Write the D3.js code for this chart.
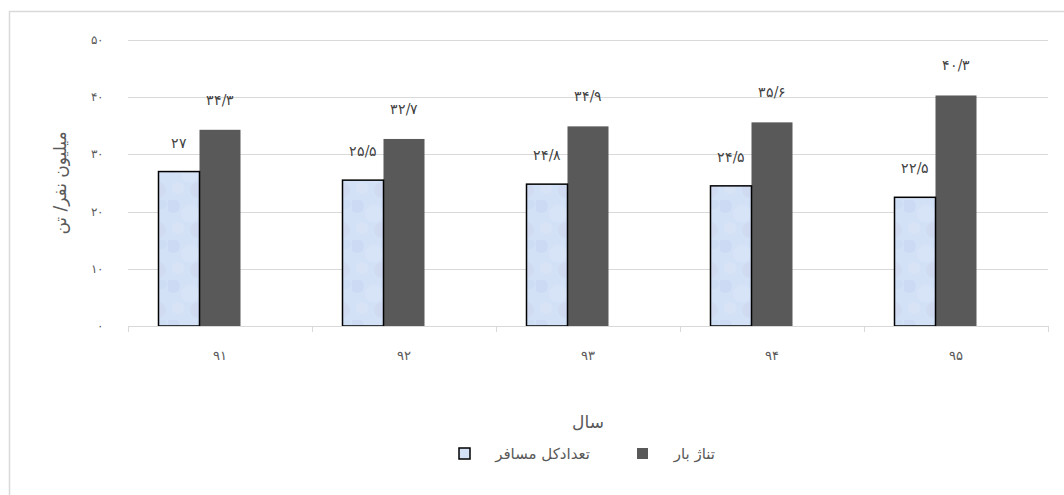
<!DOCTYPE html>
<html><head><meta charset="utf-8">
<script src="https://cdn.jsdelivr.net/npm/d3@7"></script>
<style>body{margin:0;background:#fff;} svg{display:block;}</style>
</head><body>
<script>
const categories = ["۹۱","۹۲","۹۳","۹۴","۹۵"];
const passengers = [27, 25.5, 24.8, 24.5, 22.5];
const cargo = [34.3, 32.7, 34.9, 35.6, 40.3];
const yTicks = [0,10,20,30,40,50];
const seriesNames = ["تعدادکل مسافر","تناژ بار"];
const yTitle = "میلیون نفر/ تن";
const xTitle = "سال";

const W=1064,H=495;
const fa = n => String(n).replace(/\./g,"/").replace(/[0-9]/g,d=>"۰۱۲۳۴۵۶۷۸۹"[+d]);
const svg=d3.select("body").append("svg").attr("width",W).attr("height",H);
svg.append("rect").attr("x",9.5).attr("y",11.5).attr("width",1070).attr("height",500)
  .attr("fill","#fff").attr("stroke","#d9d9d9").attr("stroke-width",1.5);

const defs=svg.append("defs");
const pat=defs.append("pattern").attr("id","tex").attr("patternUnits","userSpaceOnUse").attr("width",40).attr("height",40);
pat.append("rect").attr("width",40).attr("height",40).attr("fill","#d2e1f6");
[[5,6,7,"#c9d8f3"],[22,14,9,"#d9e5f8"],[30,30,8,"#cfd9f1"],[10,28,6,"#dae5f7"],[34,4,5,"#cbdcf4"]].forEach(([cx,cy,r,c])=>
  pat.append("circle").attr("cx",cx).attr("cy",cy).attr("r",r).attr("fill",c).attr("opacity",0.7));

const x0=128,x1=1048,yB=326,yT=40;
const x=d3.scaleBand().domain(categories).range([x0,x1]);
const xs=d3.scaleBand().domain([0,1,2]).range([0,x.bandwidth()]).paddingOuter(0.744);
const y=d3.scaleLinear().domain([0,50]).range([yB,yT]);

// gridlines
svg.append("g").selectAll("line").data(yTicks.slice(1)).join("line")
  .attr("x1",x0).attr("x2",x1).attr("y1",d=>Math.round(y(d))+0.5).attr("y2",d=>Math.round(y(d))+0.5)
  .attr("stroke","#d9d9d9").attr("stroke-width",1);
// y labels
svg.append("g").selectAll("text").data(yTicks).join("text")
  .attr("x",103).attr("y",d=>y(d)+4).attr("text-anchor","end")
  .attr("font-family","DejaVu Serif, serif").attr("font-size",12).attr("fill","#595959").text(d=>fa(d));

// bars
const groups=svg.append("g").selectAll("g").data(categories).join("g").attr("transform",d=>`translate(${x(d)},0)`);
groups.append("rect").attr("x",xs(1)).attr("width",xs.bandwidth())
  .attr("y",(d,i)=>y(cargo[i])).attr("height",(d,i)=>yB-y(cargo[i])).attr("fill","#595959");
groups.append("rect").attr("x",xs(0)).attr("width",xs.bandwidth())
  .attr("y",(d,i)=>y(passengers[i])).attr("height",(d,i)=>yB-y(passengers[i]))
  .attr("fill","url(#tex)").attr("stroke","#000").attr("stroke-width",1.5);
// labels
groups.append("text").attr("x",xs(0)+xs.bandwidth()/2).attr("y",(d,i)=>y(passengers[i])-24)
  .attr("text-anchor","middle").attr("font-family","DejaVu Serif, serif").attr("font-size",14).attr("fill","#404040")
  .text((d,i)=>fa(passengers[i]));
groups.append("text").attr("x",xs(1)+xs.bandwidth()/2).attr("y",(d,i)=>y(cargo[i])-25)
  .attr("text-anchor","middle").attr("font-family","DejaVu Serif, serif").attr("font-size",14).attr("fill","#404040")
  .text((d,i)=>fa(cargo[i]));

// x axis
svg.append("line").attr("x1",x0).attr("x2",x1).attr("y1",yB+0.5).attr("y2",yB+0.5).attr("stroke","#d9d9d9");
svg.append("g").selectAll("line").data(d3.range(categories.length+1)).join("line")
  .attr("x1",i=>Math.round(x0+i*x.bandwidth())+0.5).attr("x2",i=>Math.round(x0+i*x.bandwidth())+0.5)
  .attr("y1",yB).attr("y2",yB+6).attr("stroke","#d9d9d9");
svg.append("g").selectAll("text").data(categories).join("text")
  .attr("x",d=>x(d)+x.bandwidth()/2).attr("y",360).attr("text-anchor","middle")
  .attr("font-family","DejaVu Serif, serif").attr("font-size",13).attr("fill","#595959").text(d=>d);

// titles
svg.append("text").attr("transform","translate(66,183) rotate(-90)").attr("text-anchor","middle")
  .attr("font-family","DejaVu Sans, sans-serif").attr("font-size",17).attr("fill","#595959").text(yTitle);
svg.append("text").attr("x",588).attr("y",428).attr("text-anchor","middle")
  .attr("font-family","DejaVu Sans, sans-serif").attr("font-size",17).attr("fill","#595959").text(xTitle);

// legend
const lg=svg.append("g");
lg.append("rect").attr("x",459).attr("y",448).attr("width",11).attr("height",11).attr("fill","#d2e1f6").attr("stroke","#000").attr("stroke-width",1.5);
lg.append("text").attr("x",590).attr("y",459).attr("text-anchor","end").attr("font-family","DejaVu Sans, sans-serif").attr("font-size",15).attr("fill","#595959").text(seriesNames[0]);
lg.append("rect").attr("x",637).attr("y",448).attr("width",11).attr("height",11).attr("fill","#595959");
lg.append("text").attr("x",715).attr("y",459).attr("text-anchor","end").attr("font-family","DejaVu Sans, sans-serif").attr("font-size",15).attr("fill","#595959").text(seriesNames[1]);
</script>
</body></html>
